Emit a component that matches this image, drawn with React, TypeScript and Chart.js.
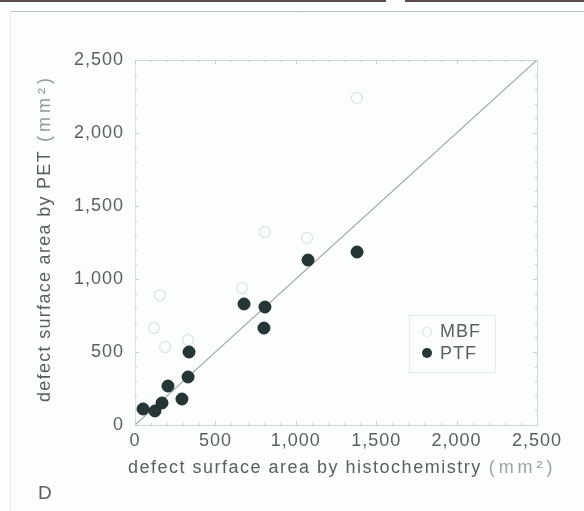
import React, { useEffect, useRef } from 'react';
import { Chart, registerables } from 'chart.js';
Chart.register(...registerables);

const ptfX = [50, 124, 168, 205, 292, 330, 336, 678, 808, 802, 1076, 1381];
const ptfY = [110, 96, 151, 267, 178, 329, 500, 829, 808, 664, 1130, 1185];
const mbfX = [118, 155, 187, 330, 665, 808, 1070, 1380];
const mbfY = [664, 890, 534, 582, 938, 1322, 1281, 2240];
const identityLine = [0, 2500];
const axisMin = 0;
const axisMax = 2500;
const axisStep = 500;
const xTitle = 'defect surface area by histochemistry';
const yTitle = 'defect surface area by PET';
const unitText = '(mm²)';
const panelLabel = 'D';
const seriesNames = ['MBF', 'PTF'];

const FONT = '"Liberation Sans", Arial, Helvetica, sans-serif';
const TEXT = '#5a5f5f';
const FAINT = 'rgba(195,210,210,0.6)';
const DOT = '#263535';

const decorPlugin = {
  id: 'decor',
  beforeDraw(chart: any) {
    const { ctx, width, height } = chart;
    ctx.save();
    ctx.fillStyle = '#fcfefe';
    ctx.fillRect(0, 0, width, height);
    ctx.restore();
    ctx.letterSpacing = '1px';
  },
  afterDraw(chart: any) {
    const { ctx, chartArea } = chart;
    const xs = chart.scales.x;
    const ys = chart.scales.y;
    ctx.save();
    // scan frame
    ctx.strokeStyle = '#5a4a4a';
    ctx.lineWidth = 2;
    ctx.beginPath();
    ctx.moveTo(0, 1); ctx.lineTo(386, 1);
    ctx.moveTo(405, 1); ctx.lineTo(584, 1);
    ctx.stroke();
    ctx.strokeStyle = '#b9c2c2';
    ctx.lineWidth = 1;
    ctx.beginPath();
    ctx.moveTo(10.5, 11.5); ctx.lineTo(584, 11.5);
    ctx.stroke();
    ctx.strokeStyle = '#e3eaea';
    ctx.beginPath();
    ctx.moveTo(10.5, 11.5); ctx.lineTo(10.5, 511);
    ctx.stroke();

    // plot frame top/right
    ctx.strokeStyle = '#cdd8d8';
    ctx.beginPath();
    ctx.moveTo(chartArea.left, chartArea.top + 0.5);
    ctx.lineTo(chartArea.right, chartArea.top + 0.5);
    ctx.moveTo(chartArea.right + 0.5, chartArea.top);
    ctx.lineTo(chartArea.right + 0.5, chartArea.bottom);
    ctx.stroke();
    // minor ticks
    ctx.strokeStyle = '#c5d0d0';
    ctx.beginPath();
    for (let v = axisMin; v <= axisMax; v += 100) {
      const py = Math.round(ys.getPixelForValue(v)) + 0.5;
      const len = v % axisStep === 0 ? 4 : 2;
      ctx.moveTo(chartArea.left, py); ctx.lineTo(chartArea.left + len, py);
      ctx.moveTo(chartArea.right, py); ctx.lineTo(chartArea.right - len, py);
      const px = Math.round(xs.getPixelForValue(v)) + 0.5;
      ctx.moveTo(px, chartArea.top); ctx.lineTo(px, chartArea.top + len);
      ctx.moveTo(px, chartArea.bottom); ctx.lineTo(px, chartArea.bottom - len);
    }
    ctx.stroke();

    // titles
    ctx.letterSpacing = '1.5px';
    ctx.font = `18px ${FONT}`;
    ctx.textBaseline = 'middle';
    ctx.textAlign = 'left';
    ctx.fillStyle = TEXT;
    const xMainW = ctx.measureText(xTitle).width;
    const xStart = 128;
    ctx.fillText(xTitle, xStart, 468);
    ctx.letterSpacing = '4px';
    ctx.fillStyle = '#9aa3a3';
    ctx.fillText(unitText, xStart + xMainW + 7, 468);

    ctx.save();
    ctx.translate(45, 0);
    ctx.rotate(-Math.PI / 2);
    ctx.letterSpacing = '1.3px';
    const yMainW = ctx.measureText(yTitle).width;
    ctx.letterSpacing = '4px';
    const unitW = ctx.measureText(unitText).width;
    const total = yMainW + 8 + unitW;
    const startY = 238 + total / 2;
    ctx.fillStyle = '#8f9999';
    ctx.fillText(unitText, -startY + yMainW + 8, 0);
    ctx.letterSpacing = '1.3px';
    ctx.fillStyle = TEXT;
    ctx.fillText(yTitle, -startY, 0);
    ctx.restore();

    // panel label
    ctx.letterSpacing = '1px';
    ctx.fillStyle = TEXT;
    ctx.font = `19px ${FONT}`;
    ctx.fillText(panelLabel, 38, 494);

    // legend
    ctx.strokeStyle = 'rgba(215,228,228,0.7)';
    ctx.strokeRect(409.5, 315.5, 86, 57);
    ctx.font = `18px ${FONT}`;
    ctx.fillStyle = TEXT;
    ctx.fillText(seriesNames[0], 440, 332);
    ctx.fillText(seriesNames[1], 440, 354);
    ctx.strokeStyle = FAINT;
    ctx.lineWidth = 1.2;
    ctx.beginPath();
    ctx.arc(427, 332, 4.5, 0, Math.PI * 2);
    ctx.stroke();
    ctx.fillStyle = DOT;
    ctx.beginPath();
    ctx.arc(427, 353, 5, 0, Math.PI * 2);
    ctx.fill();
    ctx.restore();
  },
};

export default function App() {
  const ref = useRef<HTMLCanvasElement | null>(null);
  useEffect(() => {
    document.body.style.margin = '0';
    const canvas = ref.current;
    if (!canvas) return;
    const chart = new Chart(canvas, {
      type: 'scatter',
      data: {
        datasets: [
          {
            type: 'line',
            label: 'identity',
            data: identityLine.map((v) => ({ x: v, y: v })),
            borderColor: '#9ea8a8',
            borderWidth: 1.2,
            pointRadius: 0,
            fill: false,
            order: 3,
          } as any,
          {
            label: seriesNames[0],
            data: mbfX.map((x, i) => ({ x, y: mbfY[i] })),
            backgroundColor: 'rgba(0,0,0,0)',
            borderColor: FAINT,
            borderWidth: 1.3,
            pointRadius: 5.5,
            order: 2,
          },
          {
            label: seriesNames[1],
            data: ptfX.map((x, i) => ({ x, y: ptfY[i] })),
            backgroundColor: DOT,
            borderColor: '#1c2a2a',
            borderWidth: 1,
            pointRadius: 6,
            order: 1,
          },
        ],
      },
      options: {
        responsive: false,
        animation: false,
        layout: { padding: { left: 0, top: 60, right: 47, bottom: 0 } },
        plugins: { legend: { display: false }, tooltip: { enabled: false } },
        scales: {
          x: {
            type: 'linear',
            min: axisMin,
            max: axisMax,
            afterFit: (s: any) => { s.height = 86; },
            grid: { display: false, drawTicks: false },
            border: { display: true, color: '#cfd9d9' },
            ticks: {
              stepSize: axisStep,
              padding: 5,
              color: TEXT,
              font: { family: FONT, size: 18 },
              callback: (v: any) => Number(v).toLocaleString('en-US'),
            },
          },
          y: {
            type: 'linear',
            min: axisMin,
            max: axisMax,
            afterFit: (s: any) => { s.width = 135; },
            grid: { display: false, drawTicks: false },
            border: { display: true, color: '#d8e2e2' },
            ticks: {
              stepSize: axisStep,
              padding: 11,
              color: TEXT,
              font: { family: FONT, size: 18 },
              callback: (v: any) => Number(v).toLocaleString('en-US'),
            },
          },
        },
      },
      plugins: [decorPlugin],
    });
    return () => chart.destroy();
  }, []);
  return (
    <div style={{ position: 'absolute', left: 0, top: 0, width: 584, height: 511 }}>
      <canvas ref={ref} width={584} height={511} style={{ width: 584, height: 511 }} />
    </div>
  );
}
